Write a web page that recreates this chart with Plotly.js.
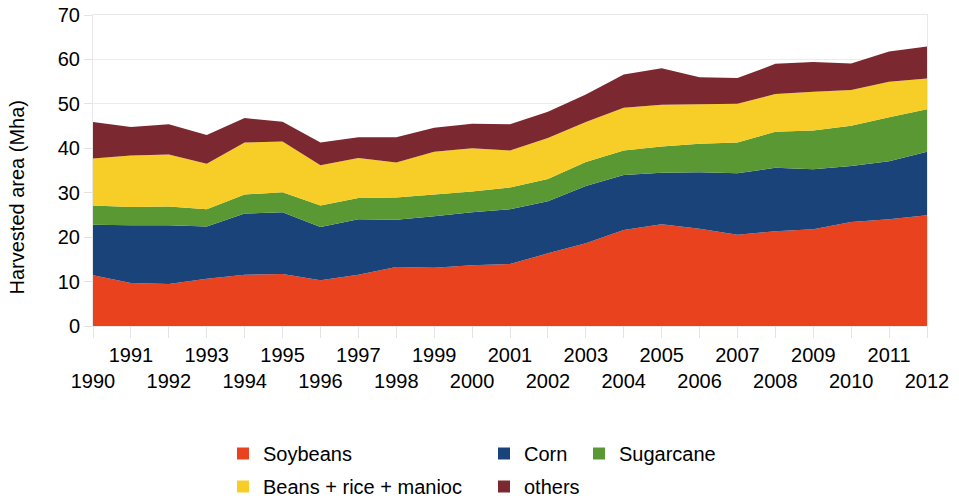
<!DOCTYPE html>
<html>
<head>
<meta charset="utf-8">
<script src="https://cdn.plot.ly/plotly-3.0.1.min.js"></script>
<style>
  html, body { margin: 0; padding: 0; background: #fff; }
  #chart { width: 959px; height: 500px; }
</style>
</head>
<body>
<div id="chart"></div>
<script>
const years = [1990,1991,1992,1993,1994,1995,1996,1997,1998,1999,2000,2001,2002,2003,2004,2005,2006,2007,2008,2009,2010,2011,2012];
const soybeans  = [11.4, 9.7, 9.45, 10.65, 11.55, 11.7, 10.3, 11.55, 13.3, 13.1, 13.65, 13.95, 16.35, 18.6, 21.6, 22.9, 21.9, 20.55, 21.3, 21.8, 23.4, 24.0, 24.9];
const corn      = [11.4, 13.0, 13.25, 11.75, 13.75, 13.9, 12.0, 12.45, 10.6, 11.6, 11.95, 12.35, 11.75, 12.9, 12.4, 11.6, 12.7, 13.85, 14.3, 13.5, 12.6, 13.1, 14.3];
const sugarcane = [4.3, 4.1, 4.2, 3.9, 4.3, 4.5, 4.8, 4.8, 5.0, 4.9, 4.7, 4.9, 5.0, 5.4, 5.5, 5.9, 6.4, 6.9, 8.1, 8.7, 9.1, 9.9, 9.6];
const beansRiceManioc = [10.6, 11.6, 11.7, 10.2, 11.7, 11.4, 9.1, 9.0, 7.9, 9.6, 9.7, 8.3, 9.2, 9.0, 9.6, 9.4, 8.9, 8.7, 8.5, 8.7, 8.0, 8.0, 6.9];
const others    = [8.2, 6.4, 6.8, 6.5, 5.5, 4.5, 5.1, 4.7, 5.7, 5.4, 5.5, 5.9, 5.9, 6.2, 7.5, 8.2, 6.1, 5.8, 6.8, 6.7, 6.0, 6.8, 7.2];
const seriesNames = ["Soybeans", "Corn", "Sugarcane", "Beans + rice + manioc", "others"];
const yTitle = "Harvested area (Mha)";
const tickLabels = years.map(y => (y % 2 === 1) ? String(y) : "<br>" + y);

const colors = ["#E8421F", "#1A4479", "#5A9834", "#F6CE27", "#7B2830"];
const seriesData = [soybeans, corn, sugarcane, beansRiceManioc, others];
const legendOf = ["legend", "legend2", "legend3", "legend", "legend2"];

const traces = [];
seriesData.forEach((vals, i) => {
  traces.push({
    type: "scatter", x: years, y: vals, name: seriesNames[i],
    stackgroup: "one", mode: "none", fillcolor: colors[i],
    showlegend: false, hoverinfo: "x+y+name"
  });
});
seriesData.forEach((vals, i) => {
  traces.push({
    type: "scatter", x: [null], y: [null], name: seriesNames[i],
    mode: "markers", marker: {symbol: "square", size: 12, color: colors[i]},
    showlegend: true, legend: legendOf[i], legendgroup: "g" + i
  });
});

const font = {family: "Liberation Sans, Arial, sans-serif", size: 20, color: "#000"};
const legendBase = {
  orientation: "v", xref: "container", yref: "container",
  yanchor: "top", xanchor: "left", bgcolor: "rgba(0,0,0,0)",
  font: {family: font.family, size: 20, color: "#000"},
  traceorder: "grouped", tracegroupgap: 4, itemwidth: 30
};

const layout = {
  width: 959, height: 500,
  margin: {l: 93, r: 32, t: 15, b: 174, pad: 0, autoexpand: false},
  paper_bgcolor: "#fff", plot_bgcolor: "#fff",
  font: font,
  showlegend: true,
  xaxis: {
    range: [1990, 2012], tickvals: years, ticktext: tickLabels,
    ticks: "outside", ticklen: 11, tickcolor: "#e3e3e3", tickwidth: 1,
    showgrid: false, zeroline: false, automargin: false,
    showline: true, mirror: true, linecolor: "#e8e8e8", linewidth: 1,
    tickangle: 0, tickfont: {family: font.family, size: 20, color: "#000"}
  },
  yaxis: {
    range: [0, 70], dtick: 10, tick0: 0, automargin: false,
    ticks: "outside", ticklen: 8, tickcolor: "#e3e3e3",
    showgrid: true, gridcolor: "#ececec", gridwidth: 1, zeroline: false,
    showline: true, mirror: true, linecolor: "#e8e8e8", linewidth: 1,
    tickfont: {family: font.family, size: 20, color: "#000"}
  },
  annotations: [{
    text: yTitle, xref: "paper", yref: "paper",
    x: (16 - 93) / 834, y: (326 - 197.5) / 311,
    xanchor: "center", yanchor: "middle", textangle: -90, showarrow: false,
    font: {family: font.family, size: 20, color: "#000"}
  }],
  legend:  Object.assign({}, legendBase, {x: 223/959, y: 1 - 434/500}),
  legend2: Object.assign({}, legendBase, {x: 484/959, y: 1 - 434/500}),
  legend3: Object.assign({}, legendBase, {x: 579/959, y: 1 - 434/500})
};

Plotly.newPlot("chart", traces, layout, {displayModeBar: false, staticPlot: true});
</script>
</body>
</html>
